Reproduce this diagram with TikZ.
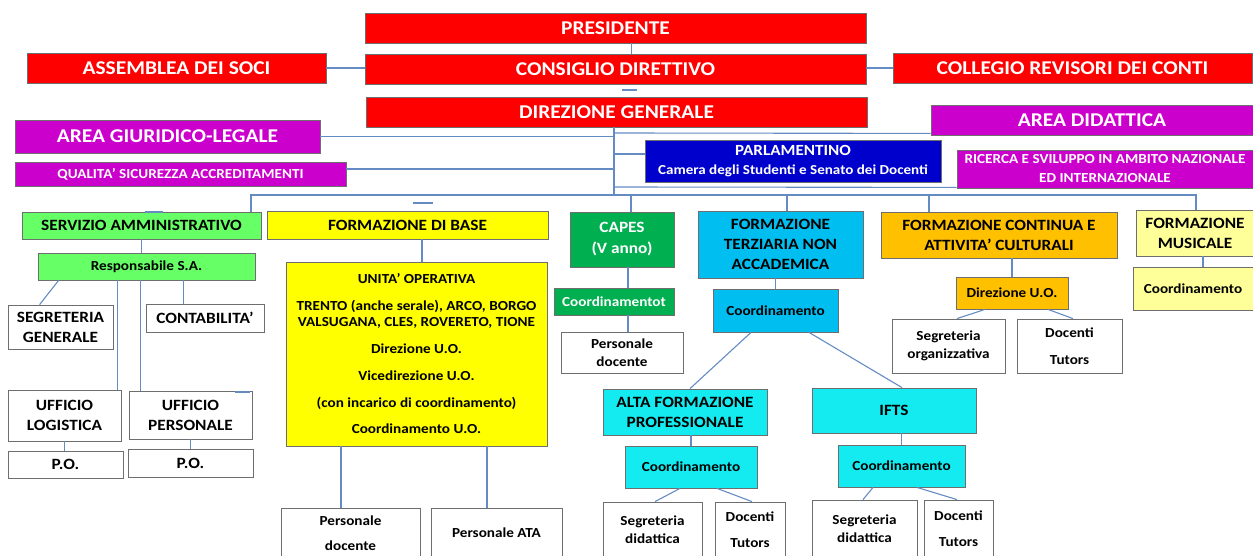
\documentclass[tikz,border=0pt]{standalone}
\usepackage{fontspec}
\setmainfont{Carlito}[FakeStretch=1.1]
\definecolor{topred}{RGB}{255,0,0}
\definecolor{areamag}{RGB}{204,0,204}
\definecolor{parlblue}{RGB}{0,0,204}
\definecolor{servgreen}{RGB}{102,255,102}
\definecolor{basey}{RGB}{255,255,0}
\definecolor{capesgreen}{RGB}{0,176,80}
\definecolor{terzblue}{RGB}{0,190,240}
\definecolor{ifcyan}{RGB}{20,235,240}
\definecolor{contorange}{RGB}{255,192,0}
\definecolor{musyellow}{RGB}{255,255,153}
\definecolor{boxline}{RGB}{110,110,110}
\definecolor{linkblue}{RGB}{100,140,195}

\begin{document}
\begin{tikzpicture}[x=1pt, y=-1pt,
    box/.style={rectangle, draw=boxline, line width=0.8pt, inner sep=0pt, align=center},
    boxsize/.style 2 args={minimum width=#1pt, minimum height=#2pt},
    fbig/.style={font=\fontsize{19.5}{22}\selectfont\bfseries},
    fsec/.style={font=\fontsize{15.7}{20}\selectfont\bfseries},
    fsub/.style={font=\fontsize{15.7}{20}\selectfont\bfseries},
    fsmall/.style={font=\fontsize{13.8}{18}\selectfont\bfseries},
    redbox/.style={box, fill=topred, text=white, fbig},
    magbox/.style={box, fill=areamag, text=white},
    greenbox/.style={box, fill=servgreen},
    yellowbox/.style={box, fill=basey},
    capesbox/.style={box, fill=capesgreen, text=white},
    terzbox/.style={box, fill=terzblue},
    cyanbox/.style={box, fill=ifcyan},
    orangebox/.style={box, fill=contorange},
    musbox/.style={box, fill=musyellow},
    whitebox/.style={box, fill=white},
    link/.style={draw=linkblue, line width=1.1pt}
  ]
  \useasboundingbox[fill=white] (0,0) rectangle (1253,556);

  % vertici
  \node[redbox, boxsize={501}{30}] (pres) at (615.5,28) {PRESIDENTE};
  \node[redbox, boxsize={501}{30}] (cons) at (615.5,69) {CONSIGLIO DIRETTIVO};
  \node[redbox, boxsize={501}{30}] (dirg) at (616.5,112) {DIREZIONE GENERALE};
  \node[redbox, boxsize={299}{30}] (asse) at (176.5,68) {ASSEMBLEA DEI SOCI};
  \node[redbox, boxsize={359}{30}] (coll) at (1072.5,68) {COLLEGIO REVISORI DEI CONTI};

  % aree di staff
  \node[magbox, fbig, boxsize={305}{33}] (areag) at (167.5,136.5) {AREA GIURIDICO-LEGALE};
  \node[magbox, boxsize={331}{24}, font=\fontsize{13.8}{16}\selectfont\bfseries] (qual) at (180.5,174) {QUALITA’ SICUREZZA ACCREDITAMENTI};
  \node[magbox, fbig, boxsize={322}{30}] (aread) at (1092,120) {AREA DIDATTICA};
  \node[magbox, boxsize={296}{38}, font=\fontsize{13.8}{19}\selectfont\bfseries] (ric) at (1105,169) {RICERCA E SVILUPPO IN AMBITO NAZIONALE\\ED INTERNAZIONALE};
  \node[box, fill=parlblue, text=white, boxsize={296}{42}, font=\fontsize{13.7}{19}\selectfont\bfseries] (parl) at (793,161) {{\fontsize{15.5}{19}\selectfont PARLAMENTINO}\\Camera degli Studenti e Senato dei Docenti};

  % settori
  \node[greenbox, fsec, boxsize={239}{27}] (serv) at (141.5,225.5) {SERVIZIO AMMINISTRATIVO};
  \node[yellowbox, fsec, boxsize={281}{28}] (fdb) at (407.5,225) {FORMAZIONE DI BASE};
  \node[capesbox, font=\fontsize{15.7}{21}\selectfont\bfseries, boxsize={104}{55}] (capes) at (622,239.5) {CAPES\\(V anno)};
  \node[terzbox, fsec, boxsize={165}{67}] (ftna) at (780.5,244.5) {FORMAZIONE\\TERZIARIA NON\\ACCADEMICA};
  \node[orangebox, fsec, boxsize={236}{46}] (fc) at (999,235) {FORMAZIONE CONTINUA E\\ATTIVITA’ CULTURALI};
  \node[musbox, fsec, boxsize={118}{46}] (fm) at (1195,233) {FORMAZIONE\\MUSICALE};

  % servizio amministrativo
  \node[greenbox, fsmall, boxsize={217}{27}] (resp) at (146.5,266.5) {Responsabile S.A.};
  \node[whitebox, fsub, boxsize={105}{44}] (segg) at (60.5,327) {SEGRETERIA\\GENERALE};
  \node[whitebox, fsub, boxsize={118}{28}] (cont) at (205,318) {CONTABILITA’};
  \node[whitebox, fsub, boxsize={113}{51}] (uffl) at (64.5,415.5) {UFFICIO\\LOGISTICA};
  \node[whitebox, fsub, boxsize={123}{48}] (uffp) at (190.5,415) {UFFICIO\\PERSONALE};
  \node[whitebox, fsub, boxsize={115}{27}] (pol) at (65.5,464.5) {P.O.};
  \node[whitebox, fsub, boxsize={125}{28}] (pop) at (190.5,463) {P.O.};

  % formazione di base
  \node[yellowbox, boxsize={261}{184}, font=\fontsize{13.8}{16}\selectfont\bfseries] (uo) at (416.5,354) {UNITA’ OPERATIVA\\[11pt]TRENTO (anche serale), ARCO, BORGO\\VALSUGANA, CLES, ROVERETO, TIONE\\[11pt]Direzione U.O.\\[11pt]Vicedirezione U.O.\\[11pt](con incarico di coordinamento)\\[10pt]Coordinamento U.O.};
  \node[whitebox, boxsize={139}{50}, font=\fontsize{13.8}{25}\selectfont\bfseries] (pdoc) at (350.5,533) {Personale\\docente};
  \node[whitebox, fsmall, boxsize={131}{50}] (ata) at (496.5,533) {Personale ATA};

  % capes
  \node[capesbox, fsmall, boxsize={120}{27}] (capc) at (614,301.5) {Coordinamentot};
  \node[whitebox, fsmall, boxsize={122}{41}] (capd) at (622,352.5) {Personale\\docente};

  % formazione terziaria
  \node[terzbox, fsmall, boxsize={125}{43}] (ftc) at (775.5,310.5) {Coordinamento};
  \node[cyanbox, fsub, boxsize={164}{46}] (afp) at (685,412) {ALTA FORMAZIONE\\PROFESSIONALE};
  \node[cyanbox, fsub, boxsize={164}{45}] (ifts) at (894,410.5) {IFTS};
  \node[cyanbox, fsmall, boxsize={132}{42}] (afpc) at (691,467) {Coordinamento};
  \node[cyanbox, fsmall, boxsize={127}{42}] (iftc) at (901.5,466) {Coordinamento};
  \node[whitebox, fsmall, boxsize={99}{55}] (afps) at (652.5,529.5) {Segreteria\\didattica};
  \node[whitebox, boxsize={70}{55}, font=\fontsize{13.8}{26}\selectfont\bfseries] (afpd) at (750,529.5) {Docenti\\Tutors};
  \node[whitebox, fsmall, boxsize={105}{57}] (ifss) at (864.5,528.5) {Segreteria\\didattica};
  \node[whitebox, boxsize={69}{57}, font=\fontsize{13.8}{26}\selectfont\bfseries] (ifsd) at (958.5,528.5) {Docenti\\Tutors};

  % formazione continua e musicale
  \node[orangebox, fsmall, boxsize={112}{32}] (fcd) at (1012,293) {Direzione U.O.};
  \node[whitebox, fsmall, boxsize={113}{54}] (fcs) at (948.5,346) {Segreteria\\organizzativa};
  \node[whitebox, boxsize={105}{54}, font=\fontsize{13.8}{27}\selectfont\bfseries] (fct) at (1069.5,346) {Docenti\\Tutors};
  \node[musbox, fsmall, boxsize={120}{43}] (fmc) at (1193,288.5) {Coordinamento};

  % collegamenti in alto
  \coordinate (trunk) at (614,195);
  \coordinate (busl) at (251,195);
  \coordinate (busr) at (1196,195);
  \draw[link] (asse.east) -- (asse.east -| cons.west);
  \draw[link] (coll.west -| cons.east) -- (coll.west);
  \draw[link] ([xshift=16pt]pres.south) -- ([xshift=16pt]cons.north);
  \draw[link] (622,90) -- (637,90);
  \draw[link] (dirg.south -| trunk) -- (trunk);
  \draw[link] (areag.east) -- (areag.east -| trunk);
  \draw[link] (trunk |- 0,133) -- ([yshift=2pt]aread.south west);
  \draw[link] (trunk |- 0,154) -- ([yshift=7pt]parl.west);
  \draw[link] ([yshift=5pt]qual.east) -- ([yshift=5pt]qual.east -| trunk);
  \draw[link] (trunk |- 0,187) -- ([yshift=1pt]ric.south west);
  \draw[link] (serv.north -| busl) -- (busl) -- (busr) -- (fm.north -| busr);
  \draw[link] ([xshift=9pt]capes.north) -- ([xshift=9pt]capes.north |- trunk);
  \draw[link] ([xshift=6.5pt]ftna.north) -- ([xshift=6.5pt]ftna.north |- trunk);
  \draw[link] ([xshift=-70pt]fc.north) -- ([xshift=-70pt]fc.north |- trunk);
  \draw[link] (413,203) -- (433,203);

  % collegamenti servizio amministrativo
  \draw[link] (145,212) -- (163,212);
  \draw[link] (serv.south) -- (serv.south |- resp.north);
  \draw[link] ([xshift=21pt]resp.south west) -- ([xshift=32pt]segg.north west);
  \draw[link] ([xshift=-4pt]uffl.north east) -- ([xshift=-4pt]uffl.north east |- resp.south);
  \draw[link] ([xshift=12pt]uffp.north west) -- ([xshift=12pt]uffp.north west |- resp.south);
  \draw[link] ([xshift=38pt]cont.north west) -- ([xshift=38pt]cont.north west |- resp.south);
  \draw[link] (235,392) -- (250,392);
  \draw[link] (uffl.south) -- (pol.north -| uffl.south);
  \draw[link] (uffp.south) -- (pop.north -| uffp.south);

  % collegamenti formazione di base
  \draw[link] ([xshift=5.5pt]uo.north) -- ([xshift=5.5pt]uo.north |- fdb.south);
  \draw[link] ([xshift=-9.5pt]pdoc.north) -- ([xshift=-9.5pt]pdoc.north |- uo.south);
  \draw[link] ([xshift=-9.5pt]ata.north) -- ([xshift=-9.5pt]ata.north |- uo.south);

  % collegamenti capes e terziaria
  \draw[link] ([xshift=6pt]capes.south) -- ([xshift=6pt]capes.south |- capc.north);
  \draw[link] ([xshift=6pt]capd.north) -- ([xshift=6pt]capd.north |- capc.south);
  \draw[link] (ftc.north) -- (ftc.north |- ftna.south);
  \draw[link] ([xshift=-24.5pt]ftc.south) -- ([xshift=5pt]afp.north);
  \draw[link] ([xshift=33.5pt]ftc.south) -- ([xshift=8pt]ifts.north);
  \draw[link] (afpc.north) -- (afpc.north |- afp.south);
  \draw[link] (iftc.north) -- (iftc.north |- ifts.south);
  \draw[link] ([xshift=-11pt]afpc.south) -- ([xshift=2.5pt]afps.north);
  \draw[link] ([xshift=26pt]afpc.south) -- ([xshift=2pt]afpd.north);
  \draw[link] ([xshift=-28.5pt]iftc.south) -- ([xshift=-1.5pt]ifss.north);
  \draw[link] ([xshift=15.5pt]iftc.south) -- ([xshift=-1.5pt]ifsd.north);

  % collegamenti formazione continua e musicale
  \draw[link] (fcd.north) -- (fcd.north |- fc.south);
  \draw[link] ([xshift=-27pt]fcd.south) -- ([xshift=8.5pt]fcs.north);
  \draw[link] ([xshift=36pt]fcd.south) -- ([xshift=3.5pt]fct.north);
  \draw[link] ([xshift=10pt]fmc.north) -- ([xshift=10pt]fmc.north |- fm.south);
\end{tikzpicture}
\end{document}
